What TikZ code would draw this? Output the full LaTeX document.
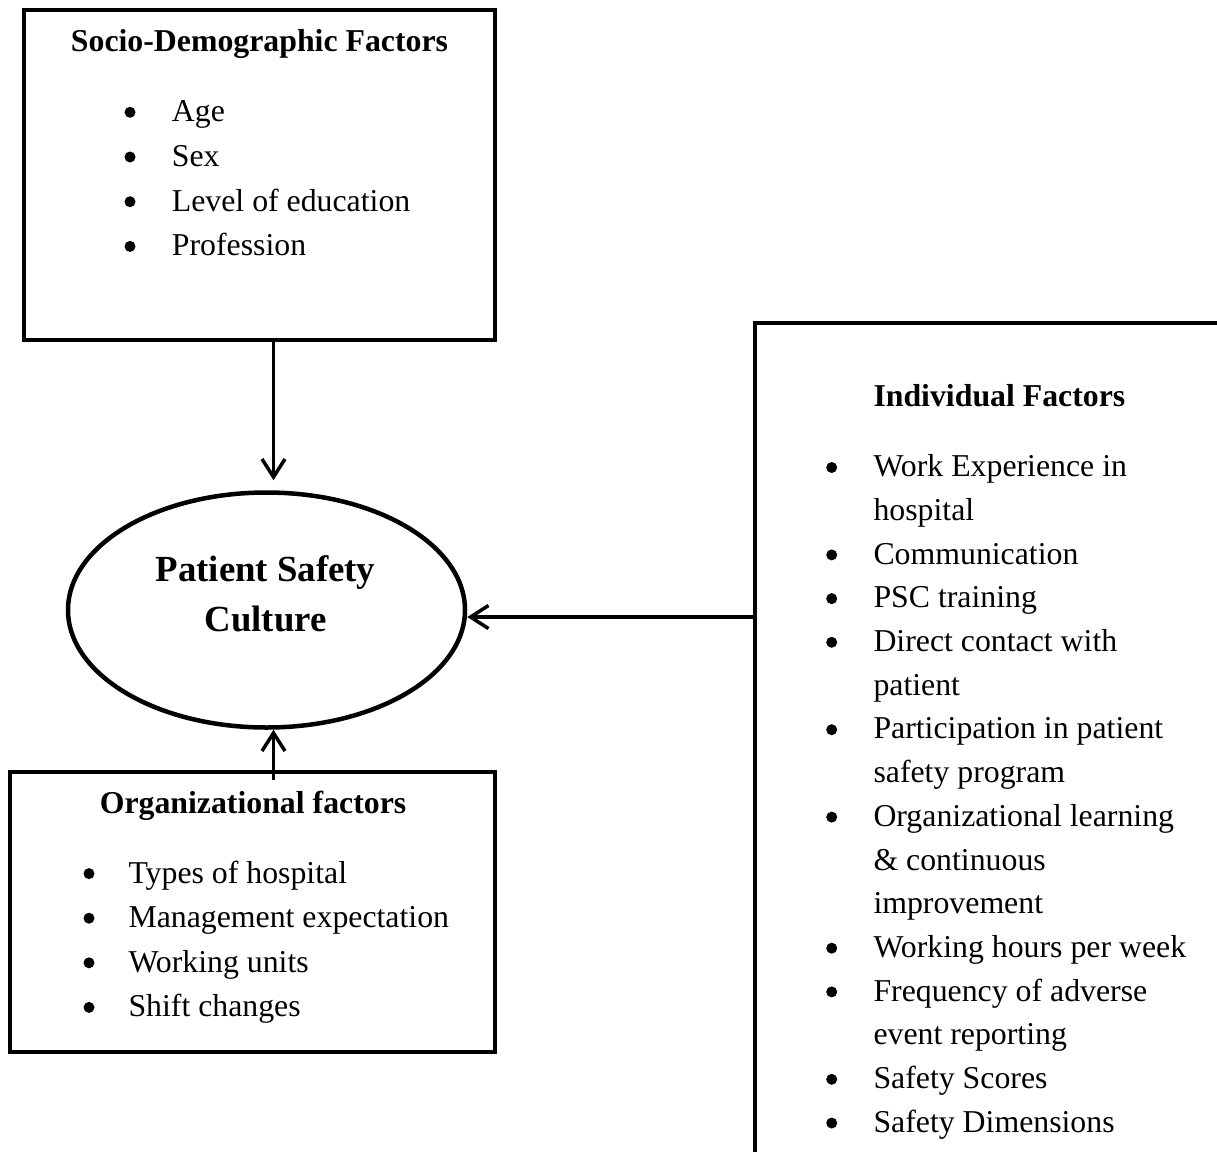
\documentclass[tikz,border=0pt]{standalone}
\usepackage{fontspec}
\setmainfont{Liberation Serif}
\usetikzlibrary{arrows.meta,shapes.geometric,calc}
\begin{document}
\begin{tikzpicture}[x=1pt,y=-1pt,
  box/.style={draw,line width=4.5pt,rectangle,inner sep=0pt},
  ttl/.style={font=\fontsize{31.8}{38}\selectfont\bfseries,anchor=base,inner sep=0pt},
  item/.style={font=\fontsize{31.8}{38}\selectfont,anchor=base west,inner sep=0pt},
  bul/.style={circle,fill=black,draw=none,minimum size=11pt,inner sep=0pt},
  big/.style={font=\fontsize{36.8}{44}\selectfont\bfseries,anchor=base,inner sep=0pt},
  arr/.style={line width=3.5pt,-{Straight Barb[length=18pt,width=23pt,line width=3.5pt]}}
]
\useasboundingbox (0,0) rectangle (1217,1151);
\clip (0,0) rectangle (1217,1151);

% boxes
\node[box,minimum width=471pt,minimum height=330pt] (sd) at (259.5,175) {};
\node[box,minimum width=485pt,minimum height=280pt] (org) at (252.5,912) {};
\node[box,minimum width=505pt,minimum height=867pt] (ind) at (1007.5,756.5) {};
\node[draw,ellipse,line width=4.5pt,inner sep=0pt,minimum width=397pt,minimum height=235pt] (psc) at (266.5,610) {};

% titles
\node[ttl] (sdt) at (259.5,51.7) {Socio-Demographic Factors};
\node[ttl] (orgt) at (253,813.3) {Organizational factors};
\node[ttl,anchor=base west] (indt) at (873.3,406.7) {Individual Factors};
\node[big] (psc1) at (265.5,581.7) {Patient Safety};
\node[big] (psc2) at (265.5,631.7) {Culture};

% socio-demographic list
\foreach \t [count=\i] in {Age,Sex,Level of education,Profession} {
  \node[item] (sd\i) at (171.7,{121.7+44.7*(\i-1)}) {\t};
  \node[bul] (sdb\i) at (130,{121.7+44.7*(\i-1)-9.4}) {};
}

% organizational list
\foreach \t [count=\i] in {Types of hospital,Management expectation,Working units,Shift changes} {
  \node[item] (org\i) at (128.3,{883+44.6*(\i-1)}) {\t};
  \node[bul] (orgb\i) at (89,{883+44.6*(\i-1)-9.4}) {};
}

% individual list
\foreach \b/\t [count=\i] in {1/Work Experience in,0/hospital,1/Communication,1/PSC training,1/Direct contact with,0/patient,1/Participation in patient,0/safety program,1/Organizational learning,0/\& continuous,0/improvement,1/Working hours per week,1/Frequency of adverse,0/event reporting,1/Safety Scores,1/Safety Dimensions} {
  \node[item] (ind\i) at (873.3,{476.7+43.7*(\i-1)}) {\t};
  \ifnum\b=1
    \node[bul] (indb\i) at (831.7,{476.7+43.7*(\i-1)-9.2}) {};
  \fi
}

% connectors
\coordinate (a1) at (273.5,0);
\coordinate (a2) at (0,617);
\draw[arr] (sd.south -| a1) -- ($(psc.north -| a1)+(0,-10)$);
\draw[arr] ($(org.north -| a1)+(0,10)$) -- (psc.south -| a1);
\draw[arr] (ind.west |- a2) -- (psc.east |- a2);
\end{tikzpicture}
\end{document}
